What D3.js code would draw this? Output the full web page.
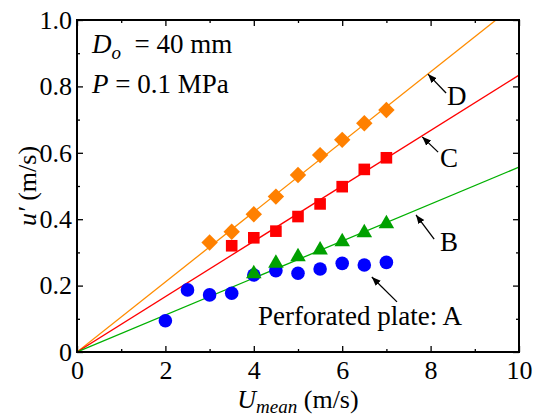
<!DOCTYPE html>
<html>
<head>
<meta charset="utf-8">
<script src="https://cdn.jsdelivr.net/npm/d3@7"></script>
<style>
  body { margin: 0; background: #fff; }
</style>
</head>
<body>
<svg id="mainsvg" width="533" height="415"></svg>
<script>
// data
const xD = [3, 3.5, 4, 4.5, 5, 5.5, 6, 6.5, 7];
const uD = [0.330, 0.362, 0.415, 0.468, 0.533, 0.593, 0.639, 0.689, 0.729];
const xC = [3.5, 4, 4.5, 5, 5.5, 6, 6.5, 7];
const uC = [0.320, 0.344, 0.364, 0.408, 0.446, 0.498, 0.550, 0.585];
const xB = [4, 4.5, 5, 5.5, 6, 6.5, 7];
const uB = [0.236, 0.267, 0.287, 0.307, 0.332, 0.359, 0.386];
const xA = [2, 2.5, 3, 3.5, 4, 4.5, 5, 5.5, 6, 6.5, 7];
const uA = [0.094, 0.187, 0.172, 0.177, 0.232, 0.245, 0.237, 0.250, 0.267, 0.262, 0.270];
const fitSlopes = {D: 0.1055, C: 0.0834, B: 0.0557};
const xTicks = [0, 2, 4, 6, 8, 10];
const yTicks = [0, 0.2, 0.4, 0.6, 0.8, 1.0];

const FONT = 'Liberation Serif';

const svg = d3.select('#mainsvg');
const margin = {top: 20, right: 14, bottom: 63, left: 77};
const width = +svg.attr('width');
const height = +svg.attr('height');
const innerWidth = width - margin.left - margin.right;
const innerHeight = height - margin.top - margin.bottom;

const g = svg.append('g').attr('transform', `translate(${margin.left}, ${margin.top})`);

const xScale = d3.scaleLinear().domain([0, 10]).range([0, innerWidth]);
const yScale = d3.scaleLinear().domain([0, 1]).range([innerHeight, 0]);

// clip for fit lines
svg.append('defs').append('clipPath').attr('id', 'clip')
  .append('rect').attr('width', innerWidth).attr('height', innerHeight);

// ticks (inward) on all four sides
const xMinor = d3.range(1, 10, 2);
const yMinor = d3.range(0.1, 1, 0.2);
const fmtY = d => d === 0 ? '0' : d3.format('.1f')(d);

function noDomain(a) {
  a.select('.domain').remove();
  a.attr('font-family', FONT).attr('font-size', 26);
}

g.append('g').attr('transform', `translate(0, ${innerHeight})`)
  .call(d3.axisBottom(xScale).tickValues(xTicks).tickSize(-6).tickPadding(9).tickFormat(d3.format('d')))
  .call(noDomain);
g.append('g').attr('transform', `translate(0, ${innerHeight})`)
  .call(d3.axisBottom(xScale).tickValues(xMinor).tickSize(-3).tickFormat(''))
  .call(noDomain);
g.append('g')
  .call(d3.axisTop(xScale).tickValues(xTicks).tickSize(-6).tickFormat(''))
  .call(noDomain);
g.append('g')
  .call(d3.axisTop(xScale).tickValues(xMinor).tickSize(-3).tickFormat(''))
  .call(noDomain);

g.append('g')
  .call(d3.axisLeft(yScale).tickValues(yTicks).tickSize(-6).tickPadding(5).tickFormat(fmtY))
  .call(noDomain);
g.append('g')
  .call(d3.axisLeft(yScale).tickValues(yMinor).tickSize(-3).tickFormat(''))
  .call(noDomain);
g.append('g').attr('transform', `translate(${innerWidth}, 0)`)
  .call(d3.axisRight(yScale).tickValues(yTicks).tickSize(-6).tickFormat(''))
  .call(noDomain);
g.append('g').attr('transform', `translate(${innerWidth}, 0)`)
  .call(d3.axisRight(yScale).tickValues(yMinor).tickSize(-3).tickFormat(''))
  .call(noDomain);

g.selectAll('.tick line').attr('stroke', '#000').attr('stroke-width', 1.3);
g.selectAll('.tick text').attr('font-family', FONT).attr('font-size', 26).attr('fill', '#000');

// fit lines through the origin
const fitColors = {D: '#ff8c00', C: '#ff0000', B: '#00b000'};
const line = d3.line().x(d => xScale(d[0])).y(d => yScale(d[1]));
Object.keys(fitSlopes).forEach(k => {
  g.append('path')
    .attr('clip-path', 'url(#clip)')
    .attr('d', line([[0, 0], [10, 10 * fitSlopes[k]]]))
    .attr('fill', 'none')
    .attr('stroke', fitColors[k])
    .attr('stroke-width', 1.3);
});

// markers
const pts = (xs, us) => xs.map((x, i) => [x, us[i]]);
g.selectAll('.ptA').data(pts(xA, uA)).join('circle')
  .attr('cx', d => xScale(d[0])).attr('cy', d => yScale(d[1]))
  .attr('r', 6.8).attr('fill', '#0000ff');
g.selectAll('.ptB').data(pts(xB, uB)).join('path')
  .attr('transform', d => `translate(${xScale(d[0])}, ${yScale(d[1])})`)
  .attr('d', d3.symbol(d3.symbolTriangle, 105))
  .attr('fill', '#00a000');
g.selectAll('.ptC').data(pts(xC, uC)).join('rect')
  .attr('x', d => xScale(d[0]) - 5.8).attr('y', d => yScale(d[1]) - 5.8)
  .attr('width', 11.6).attr('height', 11.6)
  .attr('fill', '#ff0000');
g.selectAll('.ptD').data(pts(xD, uD)).join('path')
  .attr('transform', d => `translate(${xScale(d[0])}, ${yScale(d[1])}) rotate(45)`)
  .attr('d', d3.symbol(d3.symbolSquare, 135))
  .attr('fill', '#ff8000');

// frame
g.append('rect')
  .attr('width', innerWidth).attr('height', innerHeight)
  .attr('fill', 'none').attr('stroke', '#000').attr('stroke-width', 2);

// arrows with labels
svg.append('defs').append('marker')
  .attr('id', 'arrow').attr('viewBox', '0 0 10 10')
  .attr('refX', 10).attr('refY', 5)
  .attr('markerWidth', 9).attr('markerHeight', 9)
  .attr('markerUnits', 'userSpaceOnUse')
  .attr('orient', 'auto')
  .append('path').attr('d', 'M0,1 L10,5 L0,9 Z').attr('fill', '#000');

const notes = [
  {label: 'D', tip: [7.94, 0.837], tail: [8.35, 0.780], at: [8.37, 0.744], anchor: 'start'},
  {label: 'C', tip: [7.81, 0.648], tail: [8.17, 0.602], at: [8.21, 0.557], anchor: 'start'},
  {label: 'B', tip: [7.67, 0.413], tail: [8.08, 0.340], at: [8.21, 0.304], anchor: 'start'},
  {label: 'Perforated plate: A', tip: [6.67, 0.226], tail: [7.24, 0.151], at: [8.71, 0.081], anchor: 'end'}
];
notes.forEach(n => {
  g.append('line')
    .attr('x1', xScale(n.tail[0])).attr('y1', yScale(n.tail[1]))
    .attr('x2', xScale(n.tip[0])).attr('y2', yScale(n.tip[1]))
    .attr('stroke', '#000').attr('stroke-width', 1.3)
    .attr('marker-end', 'url(#arrow)');
  g.append('text')
    .attr('x', xScale(n.at[0])).attr('y', yScale(n.at[1]))
    .attr('text-anchor', n.anchor)
    .attr('font-family', FONT).attr('font-size', 27)
    .text(n.label);
});

// condition text
const t1 = svg.append('text').attr('x', 92).attr('y', 53).attr('font-family', FONT).attr('font-size', 27);
t1.append('tspan').attr('font-style', 'italic').text('D');
t1.append('tspan').attr('font-style', 'italic').attr('font-size', 19).attr('dy', 6).text('o');
t1.append('tspan').attr('dy', -6).text('\u00a0\u00a0= 40 mm');

const t2 = svg.append('text').attr('x', 92).attr('y', 93).attr('font-family', FONT).attr('font-size', 27);
t2.append('tspan').attr('font-style', 'italic').text('P');
t2.append('tspan').text(' = 0.1 MPa');

// axis titles
const xt = svg.append('text')
  .attr('x', margin.left + innerWidth / 2).attr('y', 408)
  .attr('text-anchor', 'middle').attr('font-family', FONT).attr('font-size', 26);
xt.append('tspan').attr('font-style', 'italic').text('U');
xt.append('tspan').attr('font-style', 'italic').attr('font-size', 19).attr('dy', 5).text('mean');
xt.append('tspan').attr('dy', -5).text(' (m/s)');

const yt = svg.append('text')
  .attr('transform', `translate(36, ${margin.top + innerHeight / 2}) rotate(-90)`)
  .attr('text-anchor', 'middle').attr('font-family', FONT).attr('font-size', 26);
yt.append('tspan').attr('font-style', 'italic').text('u\u2032');
yt.append('tspan').text(' (m/s)');
</script>
</body>
</html>
